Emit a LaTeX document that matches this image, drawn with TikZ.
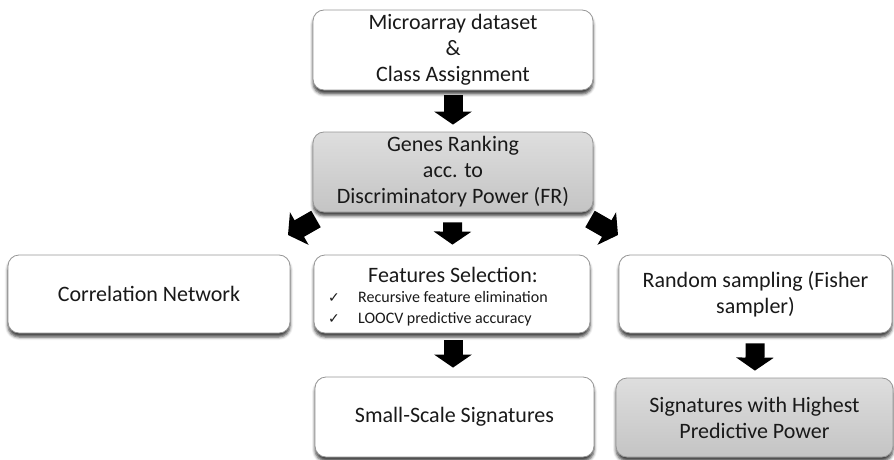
\documentclass[tikz,border=0pt]{standalone}
\usepackage{fontspec}
\setmainfont{Carlito}
\newfontfamily\symfont{DejaVu Sans}
\usetikzlibrary{arrows.meta,shadows.blur,calc}

\definecolor{boxline}{RGB}{150,150,150}
\definecolor{greytop}{RGB}{222,222,222}
\definecolor{greybot}{RGB}{196,196,196}
\definecolor{inktext}{RGB}{25,25,25}

\tikzset{
  x=1pt, y=1pt,
  stepbox/.style={
    draw=boxline, line width=0.8pt, rounded corners=11pt,
    fill=white, align=center, inner sep=0pt, text=inktext,
    font=\fontsize{22}{26}\selectfont,
    blur shadow={shadow xshift=0pt, shadow yshift=-4pt,
                 shadow blur radius=3pt, shadow opacity=75}
  },
  greybox/.style={stepbox, top color=greytop, bottom color=greybot},
  blockarrow/.style={
    draw=black, line width=19pt,
    -{Triangle[width=37pt, length=13pt]}
  },
  bullettext/.style={anchor=base west, inner sep=0pt, text=inktext,
    font=\fontsize{16}{18}\selectfont},
  checktext/.style={anchor=base west, inner sep=0pt, text=inktext,
    font=\symfont\fontsize{14}{16}\selectfont}
}

\begin{document}
\begin{tikzpicture}
\useasboundingbox (0,0) rectangle (894,459);

% boxes
\node[stepbox, minimum width=280pt, minimum height=80pt] (data) at (453,409)
  {Microarray dataset\\\&\\Class Assignment};
\node[greybox, minimum width=280pt, minimum height=80pt] (rank) at (453,287)
  {Genes Ranking\\acc. to\\Discriminatory Power (FR)};

\node[stepbox, minimum width=282pt, minimum height=78pt] (corr) at (149,165)
  {Correlation Network};
\node[stepbox, minimum width=276pt, minimum height=78pt] (fsel) at (452,165) {};
\node[stepbox, minimum width=273pt, minimum height=78pt] (rand) at (755.5,165)
  {Random sampling (Fisher\\sampler)};

\node[stepbox, minimum width=279pt, minimum height=80pt] (small) at (454.5,42)
  {Small-Scale Signatures};
\node[greybox, minimum width=277pt, minimum height=79pt] (best) at (754.5,41.5)
  {Signatures with Highest\\Predictive Power};

% contents of the feature selection box
\node[anchor=base, inner sep=0pt, text=inktext, font=\fontsize{22}{26}\selectfont]
  (fseltitle) at (453,177) {Features Selection:};
\node[checktext] (chkA) at (328,157) {✓};
\node[checktext] (chkB) at (328,136) {✓};
\node[bullettext] (itemA) at (358,157) {Recursive feature elimination};
\node[bullettext] (itemB) at (358,136) {LOOCV predictive accuracy};

% ends of the slanted arrows
\coordinate (lstart) at (316,240);
\coordinate (lend)   at (288,224);
\coordinate (rstart) at (590,240);
\coordinate (rend)   at (618,224);

% block arrows
\draw[blockarrow, shorten <=5pt, shorten >=7pt] (data) -- (rank);
\draw[blockarrow, shorten <=10pt, shorten >=10pt] (rank) -- (fsel);
\draw[blockarrow] (lstart) -- (lend);
\draw[blockarrow] (rstart) -- (rend);
\draw[blockarrow, shorten <=7pt, shorten >=9pt] (fsel.south -| fseltitle) -- (small.north -| fseltitle);
\draw[blockarrow, shorten <=10pt, shorten >=7pt] (rand) -- (best);
\end{tikzpicture}
\end{document}
